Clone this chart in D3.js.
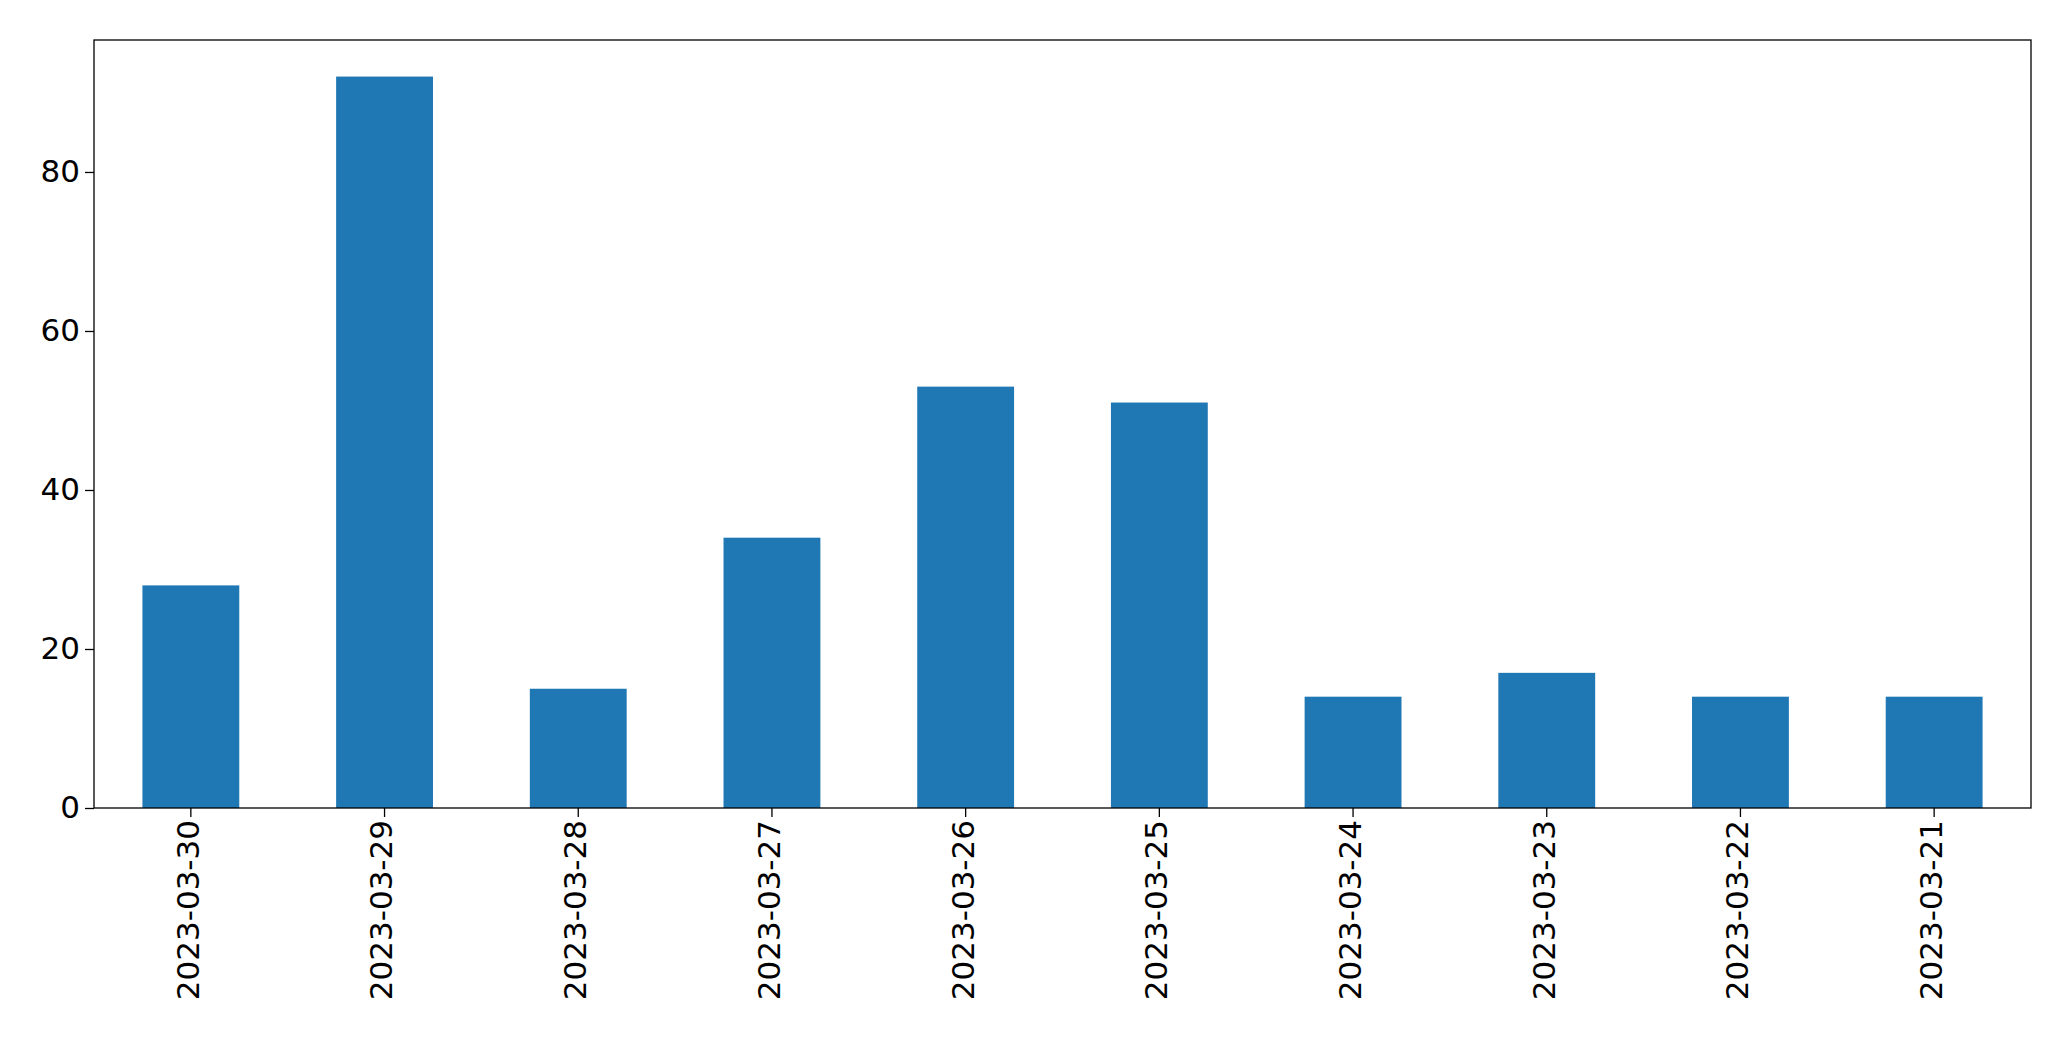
<!DOCTYPE html>
<html>
<head>
<meta charset="utf-8">
<script src="https://cdn.jsdelivr.net/npm/d3@7"></script>
<style>
  body { margin: 0; background: #fff; }
  text { font-family: "DejaVu Sans", sans-serif; }
</style>
</head>
<body>
<svg id="chart" width="2071" height="1061"></svg>
<script>
// data
var dates = ["2023-03-30", "2023-03-29", "2023-03-28", "2023-03-27", "2023-03-26",
             "2023-03-25", "2023-03-24", "2023-03-23", "2023-03-22", "2023-03-21"];
var counts = [28, 92, 15, 34, 53, 51, 14, 17, 14, 14];
var yTicks = [0, 20, 40, 60, 80];

var margin = { left: 94, right: 40, top: 40, bottom: 253 };
var width = 2071 - margin.left - margin.right,
    height = 1061 - margin.top - margin.bottom;

var svg = d3.select("#chart")
  .append("g")
    .attr("transform", "translate(" + margin.left + "," + margin.top + ")");

var x = d3.scaleBand()
    .domain(dates)
    .range([0, width])
    .paddingInner(0.5)
    .paddingOuter(0.25);

var y = d3.scaleLinear()
    .domain([0, d3.max(counts) * 1.05])
    .range([height, 0]);

svg.selectAll("rect.bar")
  .data(counts)
  .enter().append("rect")
    .attr("class", "bar")
    .attr("x", function(d, i) { return x(dates[i]); })
    .attr("y", function(d) { return y(d); })
    .attr("width", x.bandwidth())
    .attr("height", function(d) { return height - y(d); })
    .attr("fill", "#1f77b4");

// axes
var xAxis = svg.append("g")
    .attr("transform", "translate(0," + height + ")")
    .call(d3.axisBottom(x).tickSize(9).tickSizeOuter(0));
xAxis.selectAll("text")
    .attr("font-size", 31)
    .attr("fill", "#000")
    .attr("transform", "rotate(-90)")
    .attr("text-anchor", "end")
    .attr("dx", "-12")
    .attr("dy", "-0.1em")
    .attr("x", 0)
    .attr("y", 0)
    .style("dominant-baseline", "central");

var yAxis = svg.append("g")
    .call(d3.axisLeft(y).tickValues(yTicks).tickSize(9).tickSizeOuter(0));
yAxis.selectAll("text")
    .attr("font-size", 31)
    .attr("fill", "#000")
    .attr("x", -14);

svg.selectAll(".domain").remove();
svg.selectAll(".tick line").attr("stroke", "#000").attr("stroke-width", 1.3);

// frame
svg.append("rect")
    .attr("width", width)
    .attr("height", height)
    .attr("fill", "none")
    .attr("stroke", "#000")
    .attr("stroke-width", 1.3);
</script>
</body>
</html>
